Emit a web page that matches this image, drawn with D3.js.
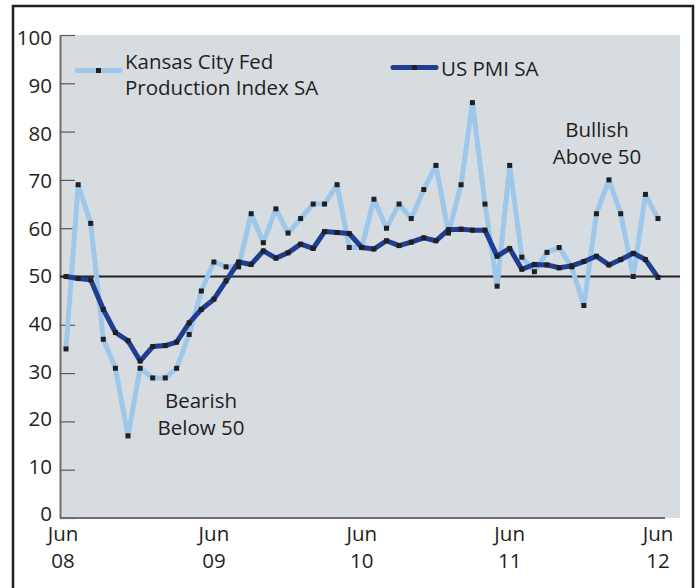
<!DOCTYPE html>
<html>
<head>
<script src="https://d3js.org/d3.v7.min.js"></script>
<style>
  body { margin: 0; background: #fff; }
  svg text { font-family: "Open Sans", "Noto Sans", sans-serif; fill: #231f20; }
</style>
</head>
<body>
<script>
  // monthly, Jun 2008 .. Jun 2012
  const startMonth = new Date(2008, 5, 1)
  const kcFed = [35, 69, 61, 37, 31, 17, 31, 29, 29, 31, 38, 47,
                 53, 52, 52, 63, 57, 64, 59, 62, 65, 65, 69, 56,
                 56, 66, 60, 65, 62, 68, 73, 59, 69, 86, 65, 48,
                 73, 54, 51, 55, 56, 52, 44, 63, 70, 63, 50, 67,
                 62]
  const usPmi = [50, 49.6, 49.3, 43.2, 38.4, 36.7, 32.5, 35.5, 35.7, 36.4, 40.4, 43.2,
                 45.3, 49.1, 53, 52.5, 55.3, 53.8, 54.9, 56.7, 55.8, 59.3, 59.1, 58.9,
                 56, 55.7, 57.4, 56.4, 57.1, 58, 57.4, 59.7, 59.8, 59.6, 59.6, 54.2,
                 55.8, 51.5, 52.5, 52.4, 51.8, 52.2, 53.1, 54.2, 52.4, 53.5, 54.8, 53.5,
                 49.8]
  const xTickLabels = [["Jun", "08"], ["Jun", "09"], ["Jun", "10"], ["Jun", "11"], ["Jun", "12"]]
  const yTicks = [0, 10, 20, 30, 40, 50, 60, 70, 80, 90, 100]
  const threshold = 50

  const width = 698, height = 588
  const plot = {left: 60, right: 680, top: 35, bottom: 518}
  const fontSize = "20.5px"

  const svg = d3.select("body").append("svg")
    .attr("width", width)
    .attr("height", height)

  // frame
  svg.append("rect")
    .attr("x", 13).attr("y", 6)
    .attr("width", 680).attr("height", 600)
    .attr("fill", "#fff")
    .attr("stroke", "#231f20")
    .attr("stroke-width", 2.5)

  svg.append("rect")
    .attr("x", plot.left).attr("y", plot.top)
    .attr("width", plot.right - plot.left)
    .attr("height", plot.bottom - plot.top)
    .attr("fill", "#d7dce0")

  const months = kcFed.map((_, i) => d3.timeMonth.offset(startMonth, i))

  const x = d3.scaleTime()
    .domain([months[0], months[months.length - 1]])
    .range([66, 658])

  const y = d3.scaleLinear()
    .domain([0, 100])
    .range([plot.bottom, plot.top])

  // the tick labels sit on a slightly tighter scale than the ticks
  const yLabel = d3.scaleLinear().domain([0, 100]).range([513.5, 37.5])

  // y axis
  const yAxis = svg.append("g")
    .attr("transform", `translate(${plot.left},0)`)
    .call(d3.axisLeft(y).tickValues(yTicks).tickSizeInner(-15).tickSizeOuter(0).tickPadding(8))
  yAxis.select(".domain").attr("stroke", "#6d6e71").attr("stroke-width", 2)
  yAxis.selectAll(".tick line").attr("stroke", "#58595b").attr("stroke-width", 1.2)
  yAxis.selectAll(".tick text")
    .style("font-size", fontSize)
    .attr("fill", "#231f20")
    .attr("y", d => yLabel(d) - y(d))
    .attr("dy", "0.36em")

  // x axis
  const junes = d3.range(0, months.length, 12).map(i => months[i])
  svg.append("line")
    .attr("x1", plot.left).attr("x2", 665)
    .attr("y1", plot.bottom).attr("y2", plot.bottom)
    .attr("stroke", "#6d6e71")
    .attr("stroke-width", 2)

  const xLab = svg.append("g").selectAll("text")
    .data(junes)
    .join("text")
    .attr("x", d => x(d))
    .attr("y", 541)
    .attr("text-anchor", "middle")
    .style("font-size", fontSize)
  xLab.append("tspan").attr("x", (d, i) => x(d) - (i == 0 ? 3 : 0)).text((d, i) => xTickLabels[i][0])
  xLab.append("tspan").attr("x", (d, i) => x(d) - (i == 0 ? 3 : 0)).attr("dy", 27).text((d, i) => xTickLabels[i][1])

  // threshold line
  svg.append("line")
    .attr("x1", plot.left).attr("x2", plot.right)
    .attr("y1", y(threshold)).attr("y2", y(threshold))
    .attr("stroke", "#231f20")
    .attr("stroke-width", 2)

  const line = d3.line()
    .x((d, i) => x(months[i]))
    .y(d => y(d))

  const series = [
    {name: ["Kansas City Fed", "Production Index SA"], values: kcFed, color: "#9dc8ec"},
    {name: ["US PMI SA"], values: usPmi, color: "#1f3d91"}
  ]

  series.forEach(s => {
    svg.append("path")
      .datum(s.values)
      .attr("fill", "none")
      .attr("stroke", s.color)
      .attr("stroke-width", 5)
      .attr("stroke-linejoin", "round")
      .attr("d", line)
  })

  series.forEach(s => {
    svg.append("g").selectAll("rect")
      .data(s.values)
      .join("rect")
      .attr("x", (d, i) => x(months[i]) - 2.5)
      .attr("y", d => y(d) - 2.5)
      .attr("width", 5)
      .attr("height", 5)
      .attr("fill", "#231f20")
  })

  // legend
  const legendPos = [{x: 77, y: 70.5, tx: 125, ty: 69}, {x: 393, y: 67.5, tx: 441, ty: 76}]
  series.forEach((s, k) => {
    const p = legendPos[k]
    const g = svg.append("g")
    g.append("line")
      .attr("x1", p.x).attr("x2", p.x + 43)
      .attr("y1", p.y).attr("y2", p.y)
      .attr("stroke", s.color)
      .attr("stroke-width", 5)
      .attr("stroke-linecap", "round")
    g.append("rect")
      .attr("x", p.x + 21.5 - 2.5).attr("y", p.y - 2.5)
      .attr("width", 5).attr("height", 5)
      .attr("fill", "#231f20")
    s.name.forEach((t, j) => {
      g.append("text")
        .attr("x", p.tx)
        .attr("y", p.ty + j * 26)
        .style("font-size", fontSize)
        .text(t)
    })
  })

  // annotations
  const notes = [
    {lines: ["Bearish", "Below 50"], x: 201, y: 408},
    {lines: ["Bullish", "Above 50"], x: 597, y: 137}
  ]
  notes.forEach(n => {
    n.lines.forEach((t, j) => {
      svg.append("text")
        .attr("x", n.x)
        .attr("y", n.y + j * 26.5)
        .attr("text-anchor", "middle")
        .style("font-size", fontSize)
        .text(t)
    })
  })
</script>
</body>
</html>
